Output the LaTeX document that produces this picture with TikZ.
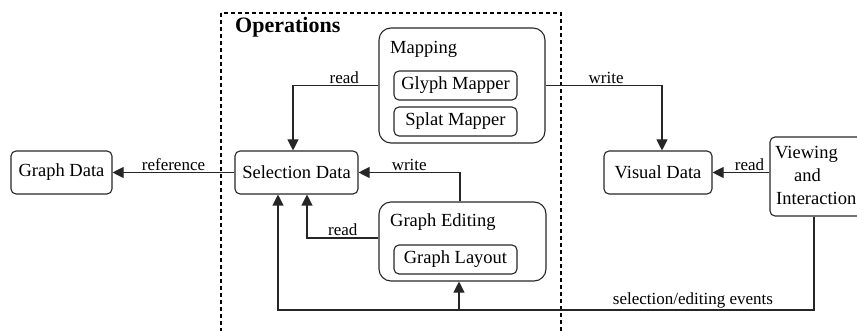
\documentclass[tikz,border=0pt]{standalone}
\usepackage{fontspec}
\setmainfont{Liberation Serif}
\usetikzlibrary{arrows.meta}
\begin{document}
\begin{tikzpicture}[x=1pt,y=-1pt,
 box/.style={draw=black!85, rounded corners=5pt, line width=1.1pt, inner sep=0pt, font=\fontsize{18.5}{22}\selectfont},
 bigbox/.style={draw=black!85, rounded corners=12pt, line width=1.1pt, inner sep=0pt},
 title/.style={anchor=base west, inner sep=0pt, font=\fontsize{18.5}{22}\selectfont},
 conn/.style={draw=black!85, line width=1.1pt, -{Triangle[length=11pt,width=11pt]}},
 lbl/.style={font=\fontsize{17}{20}\selectfont, inner sep=1.5pt},
]
\useasboundingbox (0,0) rectangle (857,331);
\draw[line width=1.8pt, dash pattern=on 4pt off 3pt] (221,13) rectangle (561,345);
\node[anchor=base west, inner sep=0pt, font=\fontsize{22}{24}\selectfont\bfseries] (ops) at (235,33) {Operations};

\node[box, minimum width=101pt, minimum height=43pt] (gd) at (61.5,172.5) {Graph Data};
\node[box, minimum width=123pt, minimum height=43pt] (sd) at (296.5,172.5) {Selection Data};
\node[box, minimum width=108pt, minimum height=43pt] (vd) at (658,172.5) {Visual Data};
\node[box, minimum width=100pt, minimum height=79pt] (vi) at (820,176.5) {};
\node[title] (vi1) at (775,159) {Viewing};
\node[title] (vi2) at (794,182) {and};
\node[title] (vi3) at (776,205) {Interaction};

\node[bigbox, minimum width=166pt, minimum height=115pt] (map) at (462,85.5) {};
\node[title] (maptitle) at (390,54) {Mapping};
\node[box, minimum width=123pt, minimum height=29pt] (glyph) at (455.5,85.5) {Glyph Mapper};
\node[box, minimum width=123pt, minimum height=29pt] (splat) at (455.5,121.5) {Splat Mapper};

\node[bigbox, minimum width=167pt, minimum height=79pt] (ge) at (462.5,241.5) {};
\node[title] (getitle) at (390,227) {Graph Editing};
\node[box, minimum width=123pt, minimum height=29pt] (gl) at (455.5,259.5) {Graph Layout};

\coordinate (bot) at (0,310);
\coordinate (sdl) at ([xshift=-18.5pt]sd.south);
\coordinate (sdr) at ([xshift=10.5pt]sd.south);

\draw[conn] (sd.west) -- (gd.east) node[midway, above, lbl] {reference};
\draw[conn] (map.west) -| ([xshift=-3.5pt]sd.north) node[pos=0.2, above, lbl] {read};
\draw[conn] (map.east) -| ([xshift=4pt]vd.north) node[pos=0.26, above, lbl] {write};
\draw[conn] (vi.west |- vd.east) -- (vd.east) node[pos=0.35, above, lbl] {read};
\draw[conn] ([xshift=-2.5pt]ge.north) |- (sd.east) node[pos=0.75, above, lbl] {write};
\draw[conn] ([yshift=3.5pt]ge.west) -| (sdr) node[pos=0.25, above, lbl] {read};
\draw[conn] ([xshift=-6pt]vi.south) |- (sdl |- bot) -- (sdl);
\node[lbl, anchor=south] (evt) at (693,310) {selection/editing events};
\draw[conn] ([xshift=-3.5pt]ge.south |- bot) -- ([xshift=-3.5pt]ge.south);
\end{tikzpicture}
\end{document}
